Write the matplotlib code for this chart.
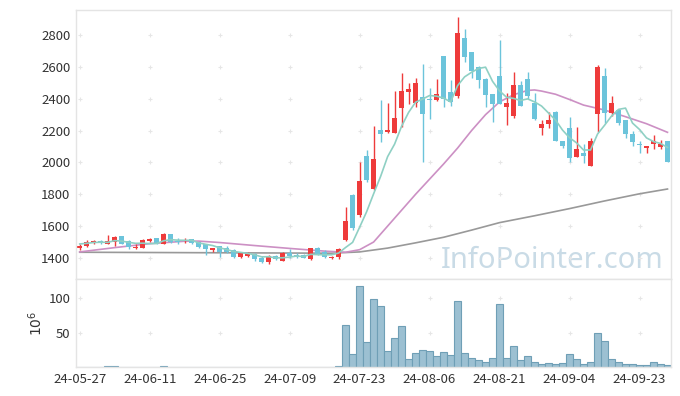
import matplotlib.pyplot as plt
import numpy as np
import pandas as pd

plt.rcParams['font.family'] = ['Noto Sans CJK KR', 'DejaVu Sans']

# trading days (KRX), 2024-05-27 .. 2024-09-27
holidays = ['2024-06-06', '2024-08-15', '2024-09-16', '2024-09-17', '2024-09-18']
dates = [d for d in pd.bdate_range('2024-05-27', '2024-09-27')
         if d.strftime('%Y-%m-%d') not in holidays]
date_labels = [d.strftime('%y-%m-%d') for d in dates]
tick_labels = ['24-05-27', '24-06-11', '24-06-25', '24-07-09', '24-07-23',
               '24-08-06', '24-08-21', '24-09-04', '24-09-23']

opens = [1461, 1477, 1496, 1509, 1490, 1502, 1538, 1509, 1461, 1465,
         1509, 1524, 1488, 1551, 1509, 1507, 1519, 1502, 1486, 1450,
         1475, 1461, 1450, 1408, 1410, 1425, 1398, 1377, 1413, 1383,
         1429, 1419, 1419, 1392, 1461, 1440, 1400, 1404, 1513, 1796,
         1670, 2040, 1833, 2204, 2192, 2187, 2344, 2444, 2375, 2409,
         2396, 2392, 2668, 2442, 2417, 2783, 2693, 2601, 2526, 2430,
         2543, 2350, 2291, 2486, 2522, 2375, 2218, 2241, 2318, 2134,
         2214, 2036, 2057, 1979, 2304, 2543, 2308, 2329, 2266, 2177,
         2115, 2089, 2114, 2099, 2134]
highs = [1488, 1513, 1516, 1516, 1544, 1538, 1540, 1510, 1490, 1520,
         1525, 1526, 1557, 1552, 1524, 1525, 1520, 1503, 1487, 1465,
         1478, 1475, 1455, 1436, 1436, 1432, 1413, 1420, 1420, 1440,
         1455, 1430, 1425, 1465, 1467, 1450, 1412, 1460, 1718, 1800,
         2005, 2078, 2229, 2392, 2371, 2448, 2559, 2501, 2528, 2618,
         2470, 2522, 2670, 2520, 2915, 2836, 2695, 2603, 2528, 2432,
         2769, 2434, 2567, 2513, 2570, 2438, 2266, 2318, 2320, 2136,
         2287, 2220, 2115, 2155, 2612, 2591, 2417, 2331, 2268, 2195,
         2134, 2105, 2172, 2140, 2136]
lows = [1450, 1470, 1488, 1490, 1488, 1477, 1486, 1455, 1455, 1460,
        1498, 1490, 1486, 1494, 1490, 1494, 1488, 1465, 1419, 1436,
        1408, 1432, 1400, 1400, 1403, 1380, 1370, 1360, 1385, 1380,
        1400, 1398, 1398, 1387, 1420, 1400, 1392, 1392, 1505, 1576,
        1658, 1874, 1827, 2130, 2183, 2183, 2224, 2365, 2350, 2005,
        2270, 2385, 2346, 2354, 2403, 2633, 2528, 2466, 2350, 2252,
        2367, 2235, 2277, 2354, 2396, 2268, 2172, 2214, 2136, 2090,
        2005, 2034, 1994, 1979, 2193, 2246, 2291, 2235, 2151, 2105,
        2057, 2061, 2082, 2085, 2005]
closes = [1477, 1499, 1509, 1494, 1509, 1532, 1488, 1467, 1465, 1513,
          1519, 1492, 1551, 1499, 1499, 1513, 1492, 1471, 1456, 1460,
          1440, 1440, 1408, 1429, 1430, 1392, 1377, 1413, 1392, 1433,
          1413, 1408, 1398, 1461, 1425, 1408, 1407, 1455, 1634, 1586,
          1883, 1890, 2022, 2180, 2204, 2281, 2448, 2458, 2498, 2304,
          2390, 2430, 2396, 2381, 2814, 2664, 2574, 2518, 2421, 2367,
          2367, 2371, 2486, 2354, 2417, 2273, 2239, 2266, 2136, 2103,
          2029, 2082, 2042, 2134, 2601, 2308, 2371, 2249, 2177, 2130,
          2110, 2103, 2134, 2116, 2005]
# volume, millions of shares
volumes = [0.2, 0.2, 0.2, 0.2, 1.2, 1.2, 0.2, 0.2, 0.2, 0.2,
           0.2, 0.2, 1.0, 0.2, 0.2, 0.2, 0.2, 0.2, 0.2, 0.2,
           0.2, 0.2, 0.2, 0.2, 0.2, 0.2, 0.2, 0.2, 0.2, 0.2,
           0.2, 0.2, 0.2, 0.2, 0.2, 0.2, 0.2, 1.0, 60.6, 18.4,
           118.4, 36.0, 98.8, 89.0, 22.8, 42.9, 59.0, 12.0, 19.8, 24.3,
           22.8, 16.5, 21.3, 16.9, 95.9, 19.8, 12.5, 9.6, 7.6, 13.5,
           91.9, 13.5, 30.1, 9.6, 16.5, 6.6, 3.7, 5.1, 3.7, 5.1,
           18.4, 11.0, 3.7, 6.6, 49.3, 37.5, 11.0, 6.6, 3.7, 3.7,
           2.2, 2.2, 6.6, 3.7, 2.2]

# moving averages
ma5 = [1488, 1492, 1497, 1499, 1498, 1509, 1506, 1498, 1492, 1493,
       1490, 1491, 1508, 1515, 1512, 1511, 1511, 1495, 1486, 1478,
       1464, 1453, 1441, 1435, 1429, 1420, 1407, 1408, 1401, 1401,
       1406, 1412, 1409, 1423, 1421, 1420, 1420, 1431, 1466, 1498,
       1593, 1690, 1803, 1912, 2036, 2115, 2227, 2314, 2378, 2398,
       2420, 2416, 2404, 2380, 2482, 2537, 2566, 2590, 2598, 2509,
       2449, 2409, 2402, 2389, 2399, 2380, 2354, 2310, 2266, 2203,
       2155, 2123, 2078, 2078, 2178, 2233, 2291, 2333, 2341, 2247,
       2207, 2154, 2131, 2119, 2094]
ma20_days = [0, 5, 10, 15, 17, 20, 25, 30, 35, 38, 40, 42, 44, 46, 48,
             50, 52, 54, 56, 58, 60, 62, 64, 65, 66, 68, 70, 72, 75, 78,
             81, 84]
ma20 = [1438, 1465, 1490, 1505, 1506, 1497, 1478, 1460, 1443, 1436,
        1452, 1500, 1600, 1700, 1800, 1895, 1990, 2090, 2200, 2300,
        2380, 2425, 2452, 2455, 2448, 2428, 2395, 2360, 2329, 2287,
        2243, 2189]
ma60_days = [0, 36, 40, 44, 48, 52, 56, 60, 65, 70, 75, 80, 84]
ma60 = [1436, 1430, 1438, 1462, 1495, 1530, 1575, 1622, 1665, 1710,
        1758, 1803, 1833]

x = np.arange(len(closes))
o = np.array(opens)
h = np.array(highs)
l = np.array(lows)
c = np.array(closes)
ticks = [date_labels.index(t) for t in tick_labels]

fig = plt.figure(figsize=(6.8, 3.96), dpi=100)
ax = fig.add_axes([76/680, 1 - 279/396, 595/680, 269/396])
axv = fig.add_axes([76/680, 1 - 367/396, 595/680, 88/396], sharex=ax)

# watermark
ax.text(0.987, 0.04, 'InfoPointer.com', transform=ax.transAxes, ha='right',
        va='baseline', fontsize=21, color='#c9dbe6', family='Noto Sans',
        zorder=0)

# grid shown as small crosses
yt = [1400, 1600, 1800, 2000, 2200, 2400, 2600, 2800]
gx, gy = np.meshgrid(ticks, yt)
ax.scatter(gx.ravel(), gy.ravel(), marker='+', s=12, color='#e6e6e6',
           linewidths=0.8, zorder=0.5)
gx, gy = np.meshgrid(ticks, [50, 100])
axv.scatter(gx.ravel(), gy.ravel(), marker='+', s=12, color='#e6e6e6',
            linewidths=0.8, zorder=0.5)

ax.plot(ma60_days, ma60, color='#999999', lw=1.2, zorder=1)
ax.plot(ma20_days, ma20, color='#cc90c4', lw=1.2, zorder=1)

colors = np.where(c >= o, '#ee3b3b', '#6cc4db')
ax.vlines(x, l, h, colors=colors, lw=1, zorder=2)
ax.bar(x, np.maximum(np.abs(c - o), 5), bottom=np.minimum(o, c), width=0.75,
       color=colors, zorder=2)
ax.plot(x, ma5, color='#8fd0c4', lw=1.2, zorder=3)

axv.bar(x, volumes, width=1.0, color='#9cc0d2', edgecolor='#6f9fb6',
        linewidth=0.8)

ax.set_xlim(-0.53, 84.5)
ax.set_ylim(1268, 2957)
ax.set_yticks(yt)
axv.set_ylim(0, 128)
axv.set_yticks([50, 100])
axv.set_xticks(ticks)
axv.set_xticklabels(tick_labels)
ax.tick_params(axis='x', labelbottom=False, length=0)
ax.tick_params(axis='y', length=0, pad=4, labelsize=9.5, labelcolor='#333333')
axv.tick_params(length=0, pad=4, labelsize=9.5, labelcolor='#333333')
axv.set_ylabel('$10^{6}$', fontsize=10, color='#333333')
axv.yaxis.set_label_coords(-0.052, 0.5)

for a in (ax, axv):
    for s in a.spines.values():
        s.set_color('#e4e4e4')
        s.set_linewidth(1)

fig.savefig('out.png', dpi=100)
